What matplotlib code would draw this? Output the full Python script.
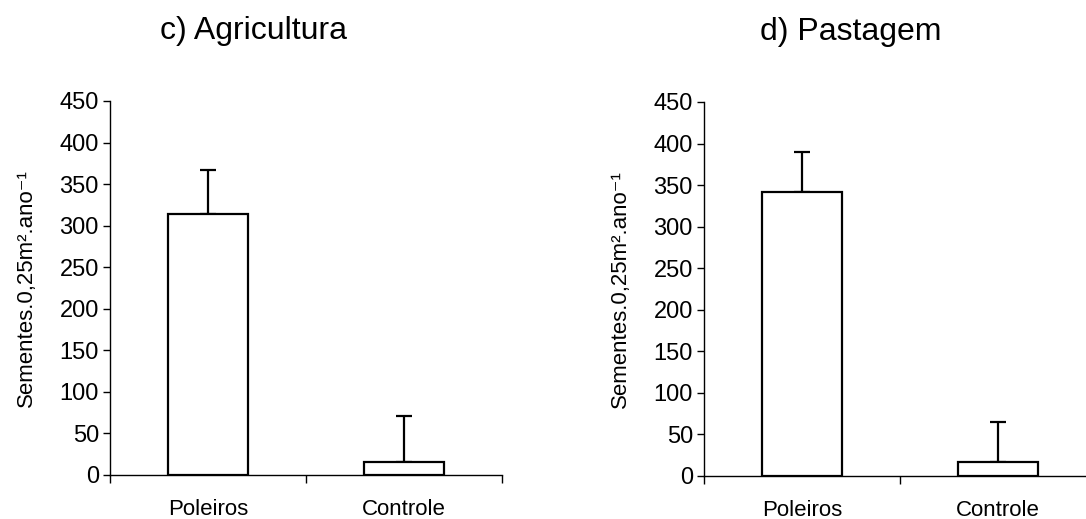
import numpy as np
import matplotlib.pyplot as plt

plt.rcParams["font.family"] = ["Liberation Sans", "DejaVu Sans"]

# Data
categories = ["Poleiros", "Controle"]
titles = ["c) Agricultura", "d) Pastagem"]
agric_means = [314, 16]
agric_err = [53, 55]
past_means = [342, 17]
past_err = [48, 48]
y_ticks = [0, 50, 100, 150, 200, 250, 300, 350, 400, 450]
y_label = "Sementes.0,25m\u00b2.ano\u207b\u00b9"


def draw_panel(ax, means, errs, title, title_x):
    x = np.arange(len(categories))
    ax.bar(x, means, width=0.41, color="white", edgecolor="black", linewidth=1.6, zorder=2)
    ax.errorbar(x, means, yerr=[np.zeros(len(errs)), errs], fmt="none",
                ecolor="black", elinewidth=1.6, capsize=6, capthick=1.6, zorder=1)

    ax.set_xlim(-0.5, len(categories) - 0.5)
    ax.set_ylim(0, 450)
    ax.set_yticks(y_ticks)
    ax.set_xticks(x)
    ax.set_xticklabels(categories, fontsize=16)
    ax.tick_params(axis="x", length=0, pad=17)
    ax.set_xticks(np.arange(-0.5, len(categories)), minor=True)
    ax.tick_params(axis="x", which="minor", length=6, width=1, direction="out")
    ax.tick_params(axis="y", labelsize=17, length=5, width=1, pad=3)

    for side in ("top", "right"):
        ax.spines[side].set_visible(False)
    for side in ("left", "bottom"):
        ax.spines[side].set_linewidth(1)

    ax.set_ylabel(y_label, fontsize=16, labelpad=16)
    ax.text(title_x, 1.187, title, transform=ax.transAxes, fontsize=23,
            ha="center", va="center")


fig = plt.figure(figsize=(10.86, 5.19), dpi=100)
ax1 = fig.add_axes([0.1013, 0.0848, 0.3609, 0.7206])
ax2 = fig.add_axes([0.6483, 0.0829, 0.3609, 0.7206])

draw_panel(ax1, agric_means, agric_err, titles[0], 0.365)
draw_panel(ax2, past_means, past_err, titles[1], 0.375)

fig.savefig("out.png", dpi=100)
